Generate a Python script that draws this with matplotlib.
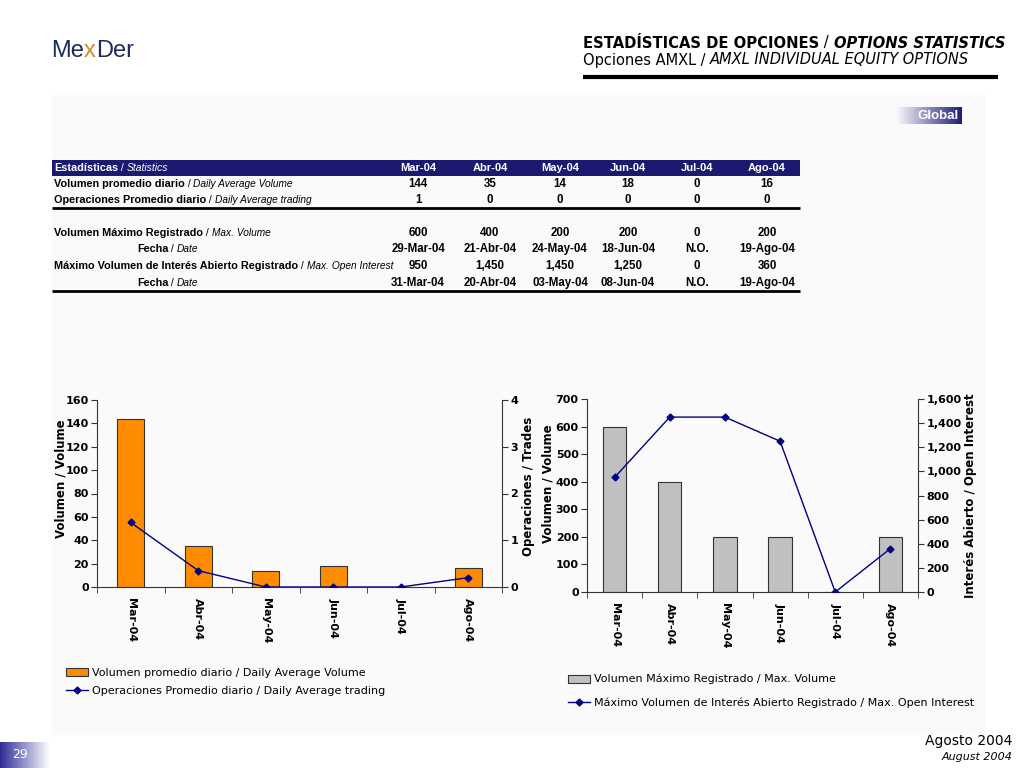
import numpy as np
import matplotlib
matplotlib.use('Agg')
import matplotlib.pyplot as plt
from matplotlib.patches import Rectangle
from matplotlib.ticker import FuncFormatter, FixedLocator

months = ['Mar-04', 'Abr-04', 'May-04', 'Jun-04', 'Jul-04', 'Ago-04']
daily_volume = [144, 35, 14, 18, 0, 16]
daily_trades_table = [1, 0, 0, 0, 0, 0]
daily_trades = [1.38, 0.35, 0.0, 0.0, 0.0, 0.2]
max_volume = [600, 400, 200, 200, 0, 200]
max_volume_dates = ['29-Mar-04', '21-Abr-04', '24-May-04', '18-Jun-04', 'N.O.', '19-Ago-04']
max_oi = [950, 1450, 1450, 1250, 0, 360]
max_oi_dates = ['31-Mar-04', '20-Abr-04', '03-May-04', '08-Jun-04', 'N.O.', '19-Ago-04']

W, H = 1024, 768
NAVY = '#1a1a70'
narrow = ['Liberation Sans Narrow', 'Liberation Sans', 'DejaVu Sans']

fig = plt.figure(figsize=(W / 100, H / 100), dpi=100)
fig.patch.set_facecolor('white')
bg = fig.add_axes([0, 0, 1, 1])
bg.set_xlim(0, W)
bg.set_ylim(H, 0)
bg.axis('off')
renderer = fig.canvas.get_renderer()


def rect(x0, y0, x1, y1):
    return [x0 / W, 1 - y1 / H, (x1 - x0) / W, (y1 - y0) / H]


def seq_text(x, y, parts, **common):
    # write pieces of text one after another with different styles
    for s, kw in parts:
        opts = dict(common)
        opts.update(kw)
        t = bg.text(x, y, s, va='center', **opts)
        x += t.get_window_extent(renderer).width


def gradient(x0, x1, y0, y1, c0, c1):
    a = np.linspace(0, 1, 256)[None, :, None]
    c0 = np.array(matplotlib.colors.to_rgb(c0))[None, None, :]
    c1 = np.array(matplotlib.colors.to_rgb(c1))[None, None, :]
    img = c0 * (1 - a) + c1 * a
    bg.imshow(img, extent=(x0, x1, y1, y0), aspect='auto', zorder=1)


# light panel
bg.add_patch(Rectangle((52, 95), 933, 640, facecolor='#fafafa', edgecolor='none', zorder=0))

# logo
seq_text(51, 51, [('Me', dict(color='#1b2a5c')), ('x', dict(color='#d08a2a')),
                  ('Der', dict(color='#1b2a5c'))],
         fontsize=17, family=narrow, fontstretch='condensed', zorder=3)

# header
seq_text(583, 43, [('ESTADÍSTICAS DE OPCIONES', dict(fontweight='bold')),
                   (' / ', dict()),
                   ('OPTIONS STATISTICS', dict(fontweight='bold', fontstyle='italic'))],
         fontsize=10.6, color='black')
seq_text(583, 60, [('Opciones AMXL', dict()),
                   (' / ', dict()),
                   ('AMXL INDIVIDUAL EQUITY OPTIONS', dict(fontstyle='italic'))],
         fontsize=10.5, color='black')
bg.plot([583, 998], [77, 77], color='black', lw=3, solid_capstyle='butt', zorder=3)

# Global badge
gradient(895, 962, 107, 124, '#ffffff', '#1c1c78')
bg.text(959, 116, 'Global', color='white', fontsize=9.5, fontweight='bold',
        ha='right', va='center', family=narrow, zorder=3)

# table
cols = [418, 490, 560, 628, 697, 767]
bg.add_patch(Rectangle((52, 160), 748, 16, facecolor=NAVY, edgecolor='none', zorder=2))
seq_text(54, 168, [('Estadísticas', dict(fontweight='bold', fontsize=7.8)),
                   (' / ', dict(fontsize=7.5)),
                   ('Statistics', dict(fontstyle='italic', fontsize=7.5))],
         color='white', family=narrow, zorder=3)
for cx, m in zip(cols, months):
    bg.text(cx, 168, m, color='white', fontsize=8, fontweight='bold', family=narrow,
            ha='center', va='center', zorder=3)

rows = [
    (184, 54, 'Volumen promedio diario', 'Daily Average Volume', [str(v) for v in daily_volume]),
    (200, 54, 'Operaciones Promedio diario', 'Daily Average trading', [str(v) for v in daily_trades_table]),
    (233, 54, 'Volumen Máximo Registrado', 'Max. Volume', [f'{v:,}' for v in max_volume]),
    (249, 137, 'Fecha', 'Date', max_volume_dates),
    (266, 54, 'Máximo Volumen de Interés Abierto Registrado', 'Max. Open Interest', [f'{v:,}' for v in max_oi]),
    (283, 137, 'Fecha', 'Date', max_oi_dates),
]
for y, x0, es, en, vals in rows:
    seq_text(x0, y, [(es, dict(fontweight='bold', fontsize=7.8)),
                     (' / ', dict(fontsize=7.5)),
                     (en, dict(fontstyle='italic', fontsize=7.3))],
             color='black', family=narrow, zorder=3)
    for cx, v in zip(cols, vals):
        bg.text(cx, y, v, fontsize=8.3, fontweight='bold', family=narrow,
                ha='center', va='center', zorder=3)
bg.plot([52, 800], [208, 208], color='black', lw=2, solid_capstyle='butt', zorder=3)
bg.plot([52, 800], [291, 291], color='black', lw=2, solid_capstyle='butt', zorder=3)

# footer
bg.text(1012, 741, 'Agosto 2004', fontsize=10, ha='right', va='center')
bg.text(1012, 757, 'August 2004', fontsize=8, fontstyle='italic', ha='right', va='center')
gradient(0, 50, 742, 768, '#2e2e96', '#ffffff')
bg.text(12, 755, '29', color='white', fontsize=9, va='center', zorder=3)


def style_axes(ax, ax2):
    x = np.arange(len(months))
    ax.set_xlim(-0.5, len(months) - 0.5)
    ax.xaxis.set_major_locator(FixedLocator(x))
    ax.set_xticklabels(months, rotation=-90, fontsize=8, fontweight='bold')
    ax.xaxis.set_minor_locator(FixedLocator(np.arange(-0.5, len(months), 1)))
    ax.tick_params(axis='x', which='major', length=0, pad=8)
    ax.tick_params(axis='x', which='minor', length=4, direction='out', color='#333333')
    ax.tick_params(axis='y', length=4, pad=2, direction='out', labelsize=8, color='#333333')
    ax2.tick_params(axis='y', length=4, pad=2, direction='out', labelsize=8, color='#333333')
    for lab in ax.get_yticklabels() + ax2.get_yticklabels():
        lab.set_fontweight('bold')
    for a in (ax, ax2):
        a.set_facecolor('none')
        a.spines['top'].set_visible(False)
        for s in a.spines.values():
            s.set_color('#333333')
            s.set_linewidth(0.8)
    ax.spines['right'].set_visible(False)
    ax2.spines['left'].set_visible(False)
    ax2.spines['bottom'].set_visible(False)


x = np.arange(len(months))

# left chart
ax1 = fig.add_axes(rect(97, 400, 502, 587))
ax1b = ax1.twinx()
b1 = ax1.bar(x, daily_volume, width=0.4, color='#ff8c00', edgecolor='#333333', linewidth=0.8)
l1, = ax1b.plot(x, daily_trades, color='#000080', lw=1, marker='D', markersize=3.5)
ax1.set_ylim(0, 160)
ax1.set_yticks(np.arange(0, 161, 20))
ax1b.set_ylim(0, 4)
ax1b.set_yticks(np.arange(0, 5, 1))
style_axes(ax1, ax1b)
ax1.set_ylabel('Volumen / Volume', fontsize=8.5, fontweight='bold')
ax1.yaxis.set_label_coords(-0.074, 0.58)
ax1b.set_ylabel('Operaciones / Trades', fontsize=8.5, fontweight='bold', rotation=90)
ax1b.yaxis.set_label_coords(1.05, 0.54)
ax1b.legend([b1, l1], ['Volumen promedio diario / Daily Average Volume',
                       'Operaciones Promedio diario / Daily Average trading'],
            loc='upper left', bbox_to_anchor=(66 / W, 1 - 668 / H), bbox_transform=fig.transFigure,
            frameon=False, fontsize=8, borderpad=0, borderaxespad=0, handletextpad=0.3,
            labelspacing=0.7, handlelength=2.0)

# right chart
ax3 = fig.add_axes(rect(587, 399, 918, 592))
ax3b = ax3.twinx()
b2 = ax3.bar(x, max_volume, width=0.42, color='#c0c0c0', edgecolor='#333333', linewidth=0.8)
l2, = ax3b.plot(x, max_oi, color='#000080', lw=1, marker='D', markersize=3.5)
ax3.set_ylim(0, 700)
ax3.set_yticks(np.arange(0, 701, 100))
ax3b.set_ylim(0, 1600)
ax3b.set_yticks(np.arange(0, 1601, 200))
ax3b.yaxis.set_major_formatter(FuncFormatter(lambda v, p: f'{v:,.0f}'))
style_axes(ax3, ax3b)
ax3.set_ylabel('Volumen / Volume', fontsize=8.5, fontweight='bold')
ax3.yaxis.set_label_coords(-0.097, 0.56)
ax3b.set_ylabel('Interés Abierto / Open Interest', fontsize=8.5, fontweight='bold', rotation=90)
ax3b.yaxis.set_label_coords(1.14, 0.5)
ax3b.legend([b2, l2], ['Volumen Máximo Registrado / Max. Volume',
                       'Máximo Volumen de Interés Abierto Registrado / Max. Open Interest'],
            loc='upper left', bbox_to_anchor=(568 / W, 1 - 674 / H), bbox_transform=fig.transFigure,
            frameon=False, fontsize=8, borderpad=0, borderaxespad=0, handletextpad=0.3,
            labelspacing=1.2, handlelength=2.0)

fig.savefig('out.png', dpi=100)
